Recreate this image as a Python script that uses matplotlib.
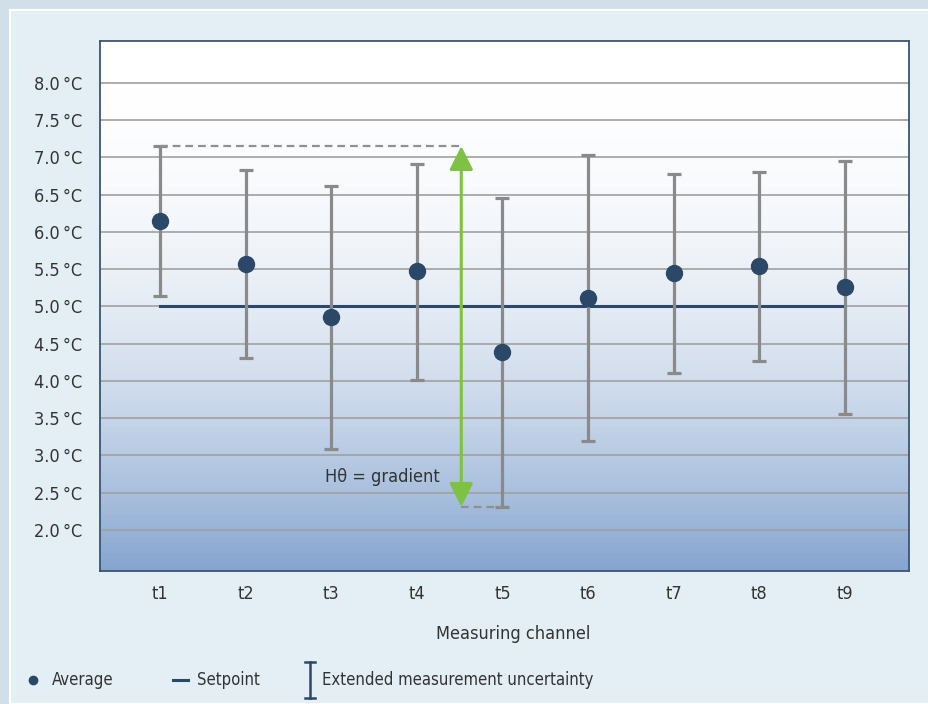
import numpy as np
import matplotlib
matplotlib.use("Agg")
import matplotlib.pyplot as plt
from matplotlib.patches import Rectangle
from matplotlib.lines import Line2D
from matplotlib.colors import LinearSegmentedColormap

plt.rcParams['font.family'] = ['DejaVu Sans']
plt.rcParams['font.stretch'] = 'condensed'

# data
channels = ['t1', 't2', 't3', 't4', 't5', 't6', 't7', 't8', 't9']
average = [6.15, 5.57, 4.86, 5.47, 4.39, 5.11, 5.45, 5.54, 5.26]
upper = [7.15, 6.83, 6.62, 6.91, 6.45, 7.03, 6.77, 6.80, 6.95]
lower = [5.14, 4.31, 3.09, 4.01, 2.31, 3.19, 4.11, 4.27, 3.56]
setpoint = 5.0
yticks = [2.0, 2.5, 3.0, 3.5, 4.0, 4.5, 5.0, 5.5, 6.0, 6.5, 7.0, 7.5, 8.0]

navy = '#2b4869'
grey = '#8a8a8a'
green = '#7dc242'
txt = '#333333'

fig = plt.figure(figsize=(9.29, 7.04), dpi=100, facecolor='#d0dfe8')
fig.patches.append(Rectangle((10/929, 0), 1, 1 - 10/704, transform=fig.transFigure,
                             facecolor='#e4eff5', edgecolor='white', lw=1.5, zorder=-10))

ax = fig.add_axes([100/929, 1 - 571/704, 809/929, 530/704])
x = np.arange(1, len(channels) + 1)
ax.set_xlim(0.30, 9.75)
ax.set_ylim(1.45, 8.56)

# background gradient
f = np.linspace(0, 1, 256) ** 2.2
cmap = LinearSegmentedColormap.from_list('bg', ['#ffffff', '#85a5cf'])
ax.imshow(f.reshape(-1, 1), cmap=cmap, aspect='auto', vmin=0, vmax=1,
          extent=[0.30, 9.75, 1.45, 8.56], origin='upper', zorder=0)

ax.set_yticks(yticks)
ax.set_yticklabels([f"{v:.1f}\u2009°C" for v in yticks])
ax.set_xticks(x)
ax.set_xticklabels(channels)
ax.tick_params(length=0, labelsize=13, colors=txt)
ax.tick_params(axis='y', pad=13)
ax.tick_params(axis='x', pad=10)
ax.grid(axis='y', color='#a0a0a0', lw=1.2, zorder=1)
ax.set_axisbelow(True)
for s in ax.spines.values():
    s.set_color('#3b5570')
    s.set_linewidth(1.3)

# setpoint
ax.plot([x[0], x[-1]], [setpoint, setpoint], color=navy, lw=2.2, zorder=2)

# error bars
av = np.array(average)
yerr = [av - np.array(lower), np.array(upper) - av]
ax.errorbar(x, av, yerr=yerr, fmt='none', ecolor=grey, elinewidth=2.3,
            capsize=5.2, capthick=2.3, zorder=3)
ax.plot(x, av, 'o', color=navy, ms=11.5, zorder=4)

# gradient annotation
xa = 4.52
ax.plot([x[0], xa], [upper[0], upper[0]], ls=(0, (3.5, 2.2)), color='#909090', lw=1.6, zorder=3)
ax.plot([xa, x[4]], [lower[4], lower[4]], ls=(0, (3.5, 2.2)), color='#909090', lw=1.6, zorder=3)
ax.annotate('', xy=(xa, upper[0]), xytext=(xa, lower[4]),
            arrowprops=dict(arrowstyle='<|-|>,head_length=0.8,head_width=0.4',
                            mutation_scale=18, color=green, lw=2.2,
                            shrinkA=0, shrinkB=0), zorder=5)
ax.text(2.93, 2.71, 'Hθ = gradient', fontsize=13, color=txt, va='center', ha='left')

fig.text(513/929, 1 - 634/704, 'Measuring channel', fontsize=13, color=txt,
         ha='center', va='center')

# legend
ly = 1 - 680/704
fig.add_artist(Line2D([33/929], [ly], marker='o', ms=6, color=navy, transform=fig.transFigure))
fig.text(52/929, ly, 'Average', fontsize=12, color=txt, va='center')
fig.add_artist(Line2D([173/929, 188/929], [ly, ly], lw=2.2, color=navy, transform=fig.transFigure))
fig.text(197/929, ly, 'Setpoint', fontsize=12, color=txt, va='center')
y0, y1 = 1 - 698/704, 1 - 662/704
fig.add_artist(Line2D([310/929, 310/929], [y0, y1], lw=1.8, color=navy, transform=fig.transFigure))
fig.add_artist(Line2D([305/929, 315/929], [y0, y0], lw=1.8, color=navy, transform=fig.transFigure))
fig.add_artist(Line2D([305/929, 315/929], [y1, y1], lw=1.8, color=navy, transform=fig.transFigure))
fig.text(322/929, ly, 'Extended measurement uncertainty', fontsize=12, color=txt, va='center')

fig.savefig('out.png', dpi=100, facecolor=fig.get_facecolor())
